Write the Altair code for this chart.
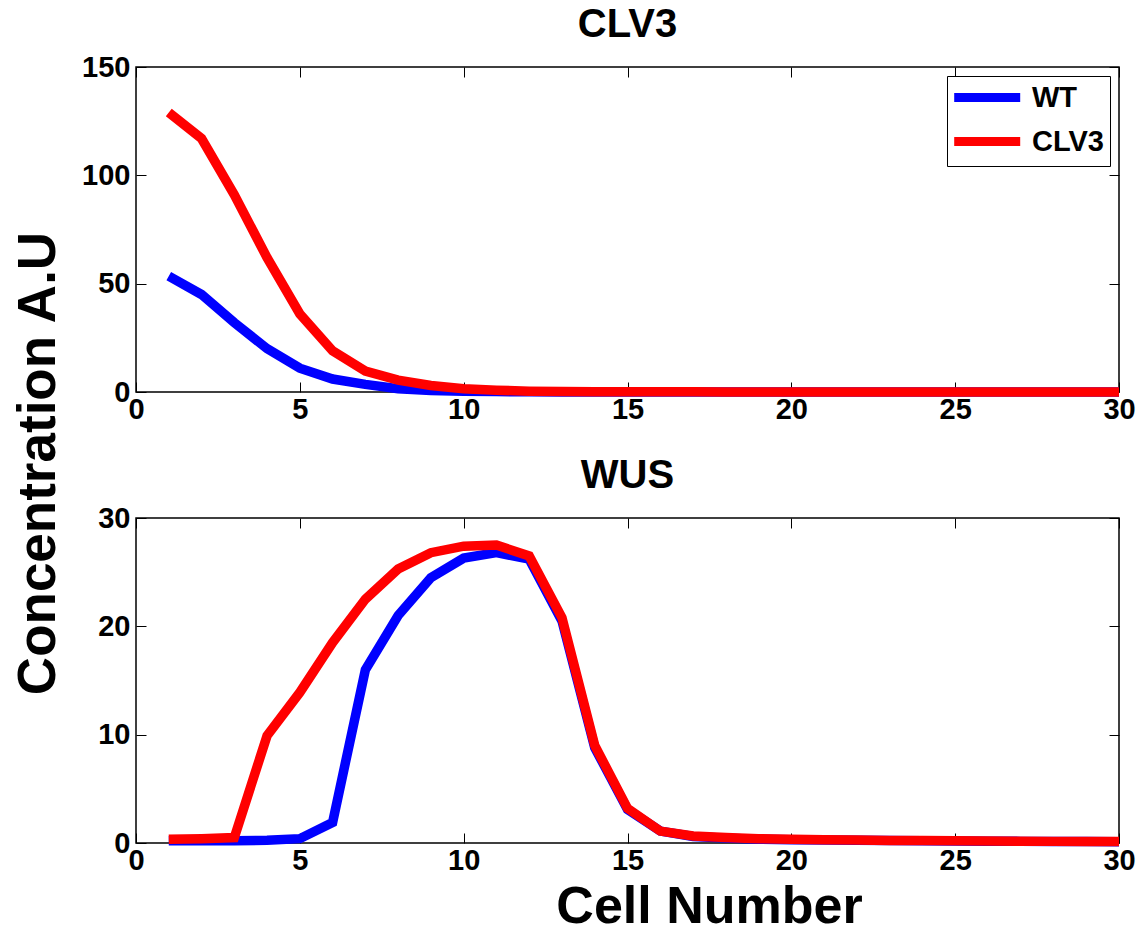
import altair as alt
import pandas as pd

cells = list(range(1, 31))
series_names = ["WT", "CLV3"]
colors = ["#0000ff", "#ff0000"]

clv3_wt = [53.5, 45, 32, 20, 11, 6, 3.5, 1.5, 0.7, 0.4, 0.2, 0.1, 0.05, 0.03, 0.02,
           0.01, 0.01, 0.01, 0.01, 0.01, 0.01, 0.01, 0.01, 0.01, 0.01, 0.01, 0.01, 0.01, 0.01, 0.01]
clv3_clv3 = [129, 117, 91, 62, 36, 19, 9.7, 5.5, 3, 1.5, 0.8, 0.4, 0.25, 0.15, 0.1,
             0.08, 0.06, 0.05, 0.05, 0.05, 0.05, 0.05, 0.05, 0.05, 0.05, 0.05, 0.05, 0.05, 0.05, 0.05]
wus_wt = [0.2, 0.2, 0.2, 0.25, 0.4, 1.9, 16, 21, 24.5, 26.3, 26.8, 26.2, 20.5, 8.8, 3.1,
          1.1, 0.6, 0.45, 0.35, 0.3, 0.28, 0.25, 0.22, 0.2, 0.18, 0.16, 0.15, 0.14, 0.13, 0.12]
wus_clv3 = [0.35, 0.4, 0.5, 9.9, 13.9, 18.5, 22.5, 25.3, 26.8, 27.4, 27.5, 26.5, 20.8, 9.0, 3.2,
            1.1, 0.65, 0.5, 0.4, 0.35, 0.3, 0.27, 0.24, 0.22, 0.2, 0.18, 0.16, 0.15, 0.14, 0.13]

x_ticks = [0, 5, 10, 15, 20, 25, 30]
clv3_y_ticks = [0, 50, 100, 150]
wus_y_ticks = [0, 10, 20, 30]

FONT = "Liberation Sans"
W, H = 983, 325
TICK_FS = 29


def frame(a, b):
    rows = []
    for name, vals in zip(series_names, [a, b]):
        for c, v in zip(cells, vals):
            rows.append({"cell": c, "value": v, "series": name})
    return pd.DataFrame(rows)


def panel(df, title, ymax, yticks, show_legend, ytitle, xtitle):
    if xtitle:
        x_kw = dict(title=xtitle, titleFontSize=52, titleFont=FONT, titleFontWeight="bold",
                    titleColor="black", titleX=573, titleY=89,
                    titleBaseline="alphabetic", titleAlign="center")
    else:
        x_kw = dict(title=None)
    x_main = alt.X(
        "cell:Q",
        scale=alt.Scale(domain=[0, 30], nice=False, zero=False),
        axis=alt.Axis(
            values=x_ticks, orient="bottom", offset=-10, tickSize=10, domain=False,
            tickColor="black", labelFontSize=TICK_FS, labelFont=FONT, labelFontWeight="bold",
            labelColor="black", labelPadding=3, grid=False, labelFlush=False, **x_kw,
        ),
    )
    if ytitle:
        y_kw = dict(title=ytitle, titleFontSize=53, titleFont=FONT, titleFontWeight="bold",
                    titleColor="black", titleX=-108, titleY=396,
                    titleAngle=270, titleBaseline="middle", titleAlign="center")
    else:
        y_kw = dict(title=None)
    y_main = alt.Y(
        "value:Q",
        scale=alt.Scale(domain=[0, ymax], nice=False),
        axis=alt.Axis(
            values=yticks, orient="left", offset=-10, tickSize=10, domain=False,
            tickColor="black", labelFontSize=TICK_FS, labelFont=FONT, labelFontWeight="bold",
            labelColor="black", labelPadding=6, grid=False, labelFlush=False, **y_kw,
        ),
    )
    legend = alt.Legend(
        orient="top-right", title=None, fillColor="white", strokeColor="black",
        padding=6, offset=9, symbolType="M-1.3,0H4.7", symbolSize=484, symbolStrokeWidth=9,
        labelFontSize=29, labelFont=FONT, labelFontWeight="bold", labelColor="black",
        rowPadding=7, labelOffset=48,
    ) if show_legend else None
    color = alt.Color(
        "series:N",
        scale=alt.Scale(domain=series_names, range=colors),
        sort=series_names,
        legend=legend,
    )
    lines = alt.Chart(df).mark_line(strokeWidth=9.5).encode(x=x_main, y=y_main, color=color)

    x_top = alt.X(
        "cell:Q",
        scale=alt.Scale(domain=[0, 30], nice=False, zero=False),
        axis=alt.Axis(values=x_ticks, orient="top", offset=-10, tickSize=10, domain=False,
                      labels=False, title=None, tickColor="black", grid=False),
    )
    y_right = alt.Y(
        "value:Q",
        scale=alt.Scale(domain=[0, ymax], nice=False),
        axis=alt.Axis(values=yticks, orient="right", offset=-10, tickSize=10, domain=False,
                      labels=False, title=None, tickColor="black", grid=False),
    )
    ghost = alt.Chart(df).mark_line(opacity=0).encode(x=x_top, y=y_right, detail="series:N")

    return alt.layer(lines, ghost).resolve_axis(x="independent", y="independent").properties(
        width=W, height=H,
        title=alt.TitleParams(title, fontSize=40, font=FONT, fontWeight="bold", color="black",
                              offset=8, anchor="middle"),
    )


top = panel(frame(clv3_wt, clv3_clv3), "CLV3", 150, clv3_y_ticks, True, "Concentration A.U", None)
bottom = panel(frame(wus_wt, wus_clv3), "WUS", 30, wus_y_ticks, False, None, "Cell Number")

chart = alt.vconcat(top, bottom, spacing=126, bounds="flush").resolve_legend(
    color="independent"
).properties(
    padding={"left": 11, "top": 4, "right": 0, "bottom": 0},
    background="white",
).configure_view(stroke="black", strokeWidth=1.5)

chart.save("out.html", embed_options={"renderer": "svg", "actions": False})
